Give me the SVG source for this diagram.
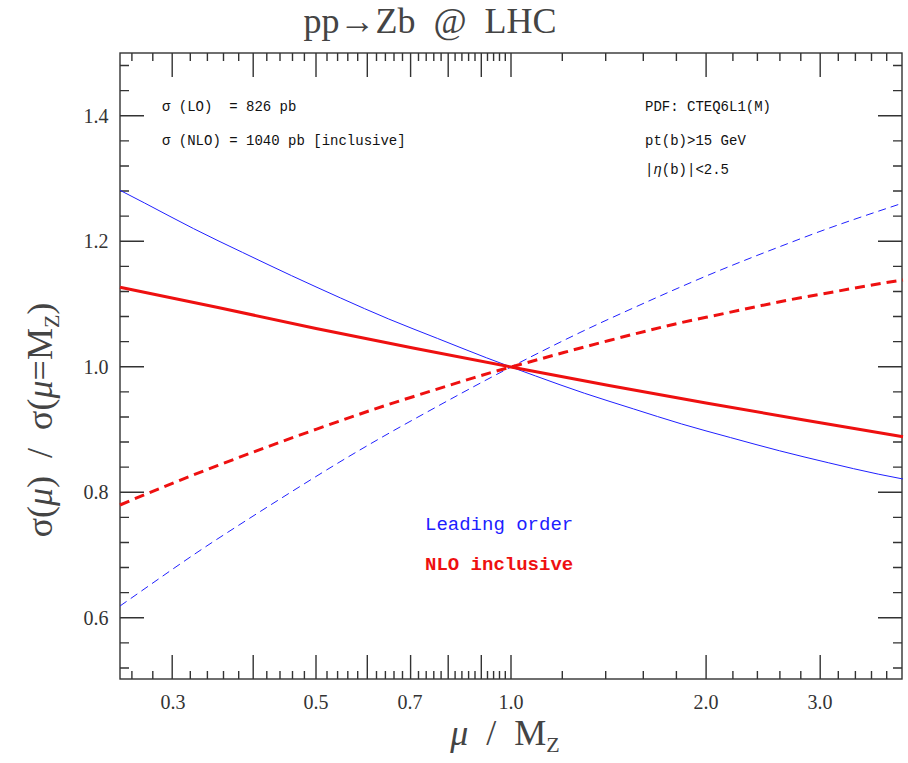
<svg xmlns="http://www.w3.org/2000/svg" width="908" height="763" viewBox="0 0 908 763">
<style>
text{white-space:pre}
.ax{fill:none;stroke:#333;stroke-width:1.4}
.tl{font-family:"Liberation Serif",serif;font-size:20px;fill:#333;text-anchor:middle}
.tt{font-family:"Liberation Mono",monospace;font-size:14px;fill:#111}
.big{font-family:"Liberation Serif",serif;font-size:36px;fill:#444}
.c{fill:none;stroke-linejoin:round}
</style>
<rect width="908" height="763" fill="#fff"/>
<g id="title"><text class="big" x="430" y="33" text-anchor="middle" font-size="32">pp→Zb  @  LHC</text></g>
<g id="axes">
<rect class="ax" x="120" y="53" width="782" height="626"/>
<path class="ax" d="M172.2 679v-24M253.2 679v-24M316 679v-24M367.3 679v-24M410.6 679v-24M448.2 679v-24M481.3 679v-24M511 679v-24M706.1 679v-24M820.2 679v-24
M172.2 53v24M253.2 53v24M316 53v24M367.3 53v24M410.6 53v24M448.2 53v24M481.3 53v24M511 53v24M706.1 53v24M820.2 53v24"/>
<path class="ax" d="M131.9 679v-8M152.8 679v-8M190.3 679v-8M207.4 679v-8M223.5 679v-8M238.7 679v-8M266.8 679v-8M280 679v-8M292.5 679v-8M304.4 679v-8M327 679v-8M337.6 679v-8M347.8 679v-8M357.7 679v-8M376.5 679v-8M385.4 679v-8M394 679v-8M402.5 679v-8M418.5 679v-8M426.2 679v-8M433.8 679v-8M441.1 679v-8M455.1 679v-8M461.9 679v-8M468.6 679v-8M475 679v-8M487.5 679v-8M493.6 679v-8M499.5 679v-8M505.3 679v-8M562.3 679v-8M605.7 679v-8M643.3 679v-8M676.4 679v-8M732.9 679v-8M757.4 679v-8M779.9 679v-8M800.8 679v-8M838.3 679v-8M855.4 679v-8M871.5 679v-8M886.7 679v-8"/>
<path class="ax" d="M131.9 53v8M152.8 53v8M190.3 53v8M207.4 53v8M223.5 53v8M238.7 53v8M266.8 53v8M280 53v8M292.5 53v8M304.4 53v8M327 53v8M337.6 53v8M347.8 53v8M357.7 53v8M376.5 53v8M385.4 53v8M394 53v8M402.5 53v8M418.5 53v8M426.2 53v8M433.8 53v8M441.1 53v8M455.1 53v8M461.9 53v8M468.6 53v8M475 53v8M487.5 53v8M493.6 53v8M499.5 53v8M505.3 53v8M562.3 53v8M605.7 53v8M643.3 53v8M676.4 53v8M732.9 53v8M757.4 53v8M779.9 53v8M800.8 53v8M838.3 53v8M855.4 53v8M871.5 53v8M886.7 53v8"/>
<path class="ax" d="M120 115.75h24M120 241.25h24M120 366.75h24M120 492.25h24M120 617.75h24M902 115.75h-24M902 241.25h-24M902 366.75h-24M902 492.25h-24M902 617.75h-24
M120 65.55h9M120 90.65h9M120 140.85h9M120 165.95h9M120 191.05h9M120 216.15h9M120 266.35h9M120 291.45h9M120 316.55h9M120 341.65h9M120 391.85h9M120 416.95h9M120 442.05h9M120 467.15h9M120 517.35h9M120 542.45h9M120 567.55h9M120 592.65h9M120 642.85h9M120 667.95h9
M902 65.55h-9M902 90.65h-9M902 140.85h-9M902 165.95h-9M902 191.05h-9M902 216.15h-9M902 266.35h-9M902 291.45h-9M902 316.55h-9M902 341.65h-9M902 391.85h-9M902 416.95h-9M902 442.05h-9M902 467.15h-9M902 517.35h-9M902 542.45h-9M902 567.55h-9M902 592.65h-9M902 642.85h-9M902 667.95h-9"/>
<text class="tl" x="96" y="123">1.4</text><text class="tl" x="96" y="248">1.2</text><text class="tl" x="96" y="374">1.0</text><text class="tl" x="96" y="499">0.8</text><text class="tl" x="96" y="625">0.6</text>
<text class="tl" x="173" y="709">0.3</text><text class="tl" x="316" y="709">0.5</text><text class="tl" x="410" y="709">0.7</text><text class="tl" x="511" y="709">1.0</text><text class="tl" x="706" y="709">2.0</text><text class="tl" x="820" y="709">3.0</text>
<text class="big" x="505" y="745" text-anchor="middle"><tspan font-style="italic">μ</tspan>  /  M<tspan font-size="22" dy="7">Z</tspan></text>
<text class="big" transform="translate(52,420) rotate(-90)" text-anchor="middle">σ(<tspan font-style="italic">μ</tspan>)  /  σ(<tspan font-style="italic">μ</tspan>=M<tspan font-size="22" dy="7">Z</tspan><tspan dy="-7">)</tspan></text>
</g>
<g id="curves">
<path class="c" stroke="#2020ff" stroke-width="1" d="M120,190.3 C153,207 185,225 218,240.7 S283,272 316,286.9 S380,316 413,328.8 S478,355 511,367 S576,391 609,401.2 S673,422 706,430.9 S771,449 804,456.9 S870,473 903,479"/>
<path class="c" stroke="#2020ff" stroke-width="1" stroke-dasharray="8,5" d="M120,606 C153,583 185,560 218,538.6 S283,497 316,476.5 S380,438 413,419.8 S478,384 511,367 S576,334 609,319 S673,290 706,276.1 S771,250 804,237.4 S870,214 903,203"/>
<polyline class="c" stroke="#ee1010" stroke-width="3" points="120,287.3 218,307.5 316,328.5 413,348 511,367 609,385.5 706,402.9 804,420 903,436.8"/>
<path class="c" stroke="#ee1010" stroke-width="3" stroke-dasharray="10,6" d="M120,505 C153,491 185,478 218,465.4 S283,441 316,429.3 S380,407 413,396.7 S478,376 511,367 S576,349 609,340.5 S673,324 706,317.3 S771,303 804,297.2 S870,285 903,280"/>
</g>
<g id="notes">
<text class="tt" x="162" y="111">σ (LO)  = 826 pb</text>
<text class="tt" x="162" y="145">σ (NLO) = 1040 pb [inclusive]</text>
<text class="tt" x="645" y="111">PDF: CTEQ6L1(M)</text>
<text class="tt" x="645" y="145">pt(b)&gt;15 GeV</text>
<text class="tt" x="645" y="174">|<tspan font-style="italic">η</tspan>(b)|&lt;2.5</text>
</g>
<g id="legend">
<text x="425" y="530" font-family="Liberation Mono,monospace" font-size="19" fill="#2020ff">Leading order</text>
<text x="425" y="570" font-family="Liberation Mono,monospace" font-size="19" font-weight="bold" fill="#ee1010">NLO inclusive</text>
</g>
</svg>
